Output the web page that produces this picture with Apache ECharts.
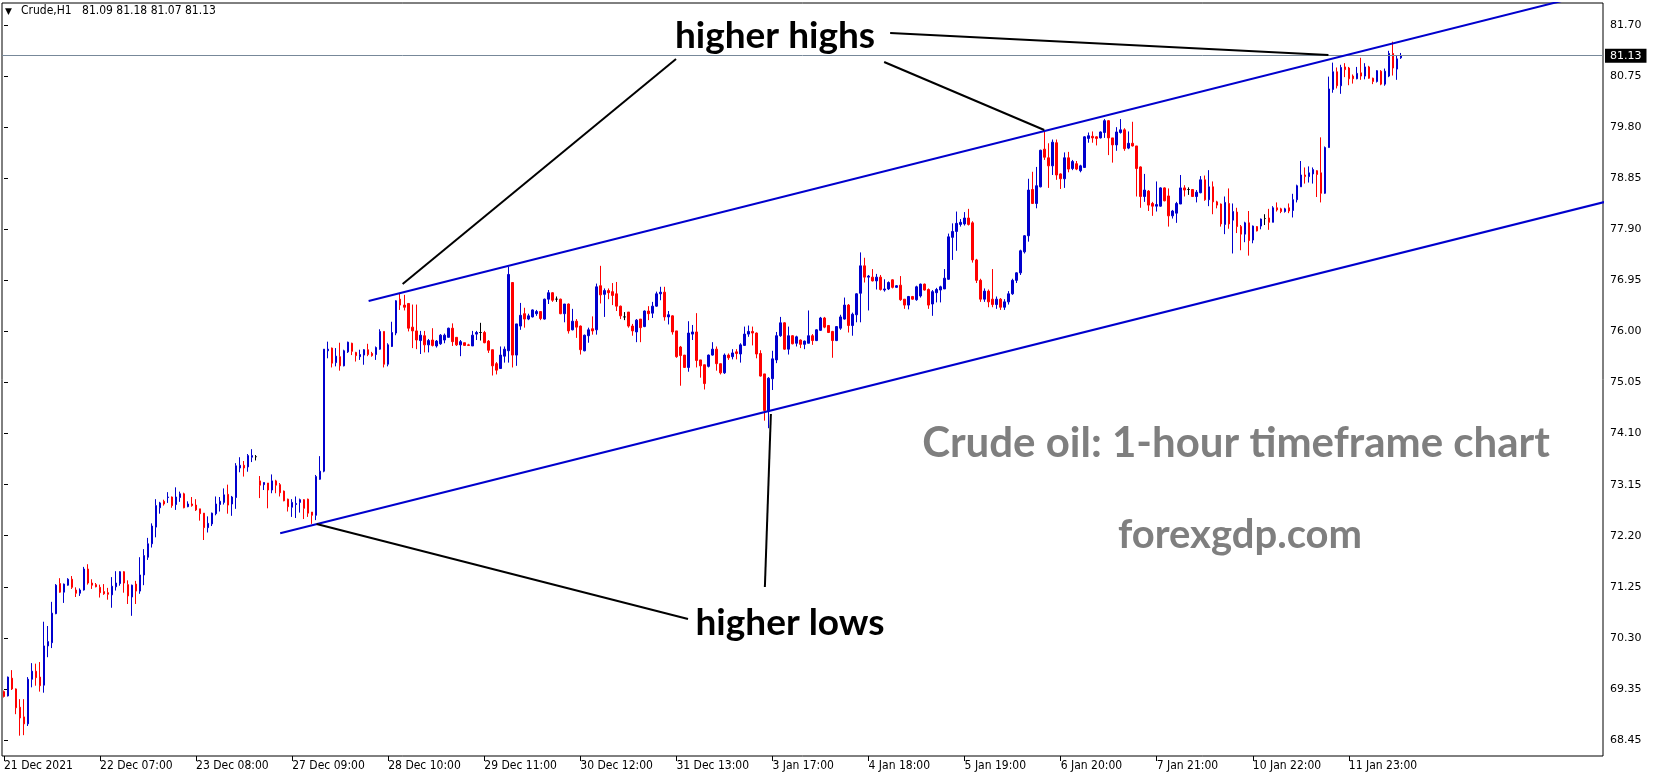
<!DOCTYPE html>
<html>
<head>
<meta charset="utf-8">
<script src="https://cdn.jsdelivr.net/npm/echarts@6/dist/echarts.min.js"></script>
<style>
html,body{margin:0;padding:0;background:#fff;}
#c{width:1653px;height:780px;}
</style>
</head>
<body>
<div id="c"></div>
<script>
// ---- tick labels ----
const xTickLabels = ['21 Dec 2021','22 Dec 07:00','23 Dec 08:00','27 Dec 09:00','28 Dec 10:00','29 Dec 11:00','30 Dec 12:00','31 Dec 13:00','3 Jan 17:00','4 Jan 18:00','5 Jan 19:00','6 Jan 20:00','7 Jan 21:00','10 Jan 22:00','11 Jan 23:00'];
const barsPerLabel = 24;
const totalSlots = 400;
const yTickValues = [68.40,69.35,70.30,71.25,72.20,73.15,74.10,75.05,76.00,76.95,77.90,78.85,79.80,80.75,81.70];
const yTickLabels = ['68.45','69.35','70.30','71.25','72.20','73.15','74.10','75.05','76.00','76.95','77.90','78.85','79.80','80.75','81.70'];
const lastPrice = 81.13;

// ---- hourly candles [open, high, low, close] ----
const ohlc = [
[69.30,69.32,69.19,69.21],[69.22,69.58,69.21,69.57],[69.55,69.70,69.33,69.35],[69.35,69.36,68.88,69.00],[69.01,69.16,68.48,68.81],
[68.83,69.16,68.49,68.70],[68.70,69.57,68.66,69.53],[69.53,69.83,69.38,69.68],[69.68,69.82,69.41,69.56],[69.57,69.85,69.30,69.41],
[69.42,70.60,69.28,70.15],[70.15,70.52,69.94,70.23],[70.21,70.97,70.11,70.76],[70.75,71.30,70.74,71.28],[71.31,71.41,71.14,71.15],
[71.15,71.31,70.95,71.30],[71.28,71.41,71.27,71.39],[71.39,71.45,71.21,71.24],[71.19,71.24,71.06,71.13],[71.13,71.22,71.08,71.19],
[71.19,71.62,71.18,71.58],[71.58,71.67,71.29,71.32],[71.32,71.39,71.21,71.28],[71.29,71.32,71.24,71.25],[71.24,71.29,71.05,71.14],
[71.16,71.30,71.10,71.12],[71.14,71.23,71.01,71.11],[71.10,71.43,70.86,71.26],[71.25,71.54,71.18,71.32],[71.31,71.54,71.27,71.53],
[71.53,71.54,71.14,71.32],[71.29,71.37,70.93,71.08],[71.06,71.29,70.71,71.28],[71.30,71.36,70.93,71.17],[71.17,71.80,71.12,71.47],
[71.47,71.95,71.28,71.83],[71.80,72.16,71.75,72.05],[72.05,72.43,71.98,72.38],[72.36,72.88,72.17,72.76],[72.72,72.83,72.61,72.81],
[72.84,72.87,72.76,72.79],[72.91,73.01,72.81,72.92],[72.92,72.93,72.72,72.76],[72.78,73.10,72.68,72.92],[72.91,73.02,72.83,72.98],
[72.98,73.00,72.71,72.72],[72.74,72.84,72.73,72.79],[72.79,72.92,72.74,72.76],[72.77,72.88,72.66,72.68],[72.70,72.70,72.48,72.61],
[72.62,72.62,72.12,72.35],[72.35,72.56,72.26,72.43],[72.42,72.63,72.38,72.62],[72.61,72.93,72.58,72.79],[72.78,72.92,72.65,72.84],
[72.82,73.08,72.78,72.96],[72.97,73.15,72.61,72.77],[72.79,72.94,72.57,72.92],[72.91,73.55,72.70,73.50],[73.46,73.66,73.38,73.51],
[73.51,73.59,73.30,73.46],[73.48,73.72,73.39,73.69],[73.66,73.81,73.57,73.69],[73.67,73.70,73.60,73.67],[73.22,73.31,72.90,73.14],
[73.15,73.19,73.05,73.19],[73.18,73.18,72.71,73.05],[73.05,73.34,72.99,73.22],[73.22,73.24,72.99,73.14],[73.15,73.18,72.93,73.00],
[73.03,73.04,72.84,72.85],[72.88,72.89,72.65,72.74],[72.73,72.88,72.55,72.82],[72.78,72.93,72.53,72.80],[72.82,72.89,72.63,72.87],
[72.87,72.88,72.51,72.71],[72.88,72.89,72.55,72.62],[72.64,72.64,72.42,72.58],[72.58,73.33,72.49,73.30],[73.25,73.68,73.24,73.40],
[73.40,75.67,73.38,75.67],[75.64,75.81,75.50,75.67],[75.69,75.70,75.33,75.41],[75.42,75.69,75.35,75.54],[75.53,75.79,75.27,75.36],
[75.36,75.66,75.35,75.64],[75.62,75.81,75.60,75.80],[75.78,75.79,75.56,75.63],[75.61,75.62,75.44,75.55],[75.53,75.66,75.47,75.57],
[75.56,75.67,75.38,75.66],[75.66,75.77,75.54,75.57],[75.59,75.62,75.53,75.55],[75.57,75.72,75.47,75.70],[75.67,76.04,75.66,76.00],
[76.00,76.00,75.33,75.39],[75.39,75.78,75.35,75.75],[75.72,76.18,75.71,75.98],[75.97,76.58,75.93,76.57],[76.60,76.71,76.40,76.49],
[76.49,76.68,76.39,76.45],[76.52,76.52,76.00,76.06],[76.08,76.50,75.69,76.01],[76.01,76.50,75.67,75.84],[75.83,76.01,75.58,75.93],
[75.92,76.01,75.61,75.75],[75.75,75.86,75.61,75.83],[75.84,76.06,75.72,75.74],[75.73,75.84,75.70,75.82],[75.77,75.95,75.75,75.93],
[75.84,75.96,75.78,75.93],[75.89,76.07,75.89,76.06],[76.06,76.15,75.73,75.81],[75.89,75.89,75.73,75.75],[75.75,75.84,75.54,75.81],
[75.79,75.79,75.73,75.74],[75.75,75.77,75.73,75.74],[75.73,76.01,75.73,75.93],[75.95,76.01,75.84,75.98],[75.98,76.16,75.83,75.98],
[75.98,76.01,75.78,75.79],[75.82,75.84,75.60,75.65],[75.66,75.66,75.18,75.36],[75.40,75.43,75.20,75.28],[75.31,75.72,75.31,75.56],
[75.54,75.72,75.42,75.67],[75.64,77.20,75.42,77.06],[76.91,76.91,75.33,75.56],[75.56,76.14,75.36,76.14],[76.10,76.53,76.03,76.30],
[76.33,76.44,76.07,76.23],[76.23,76.33,76.21,76.29],[76.27,76.41,76.26,76.40],[76.33,76.40,76.29,76.37],[76.37,76.37,76.21,76.24],
[76.23,76.61,76.22,76.60],[76.60,76.77,76.51,76.72],[76.72,76.73,76.55,76.58],[76.60,76.65,76.55,76.60],[76.60,76.61,76.32,76.33],
[76.33,76.51,76.17,76.51],[76.51,76.52,75.96,76.01],[76.03,76.42,76.02,76.19],[76.19,76.23,75.88,76.08],[76.10,76.11,75.57,75.66],
[75.64,75.94,75.63,75.93],[75.92,76.07,75.79,76.03],[76.05,76.28,75.94,76.01],[76.03,76.89,75.94,76.83],[76.85,77.22,76.52,76.68],
[76.69,76.80,76.27,76.76],[76.76,76.80,76.60,76.72],[76.74,76.90,76.49,76.67],[76.70,76.92,76.38,76.47],[76.47,76.48,76.23,76.29],
[76.27,76.36,76.21,76.27],[76.36,76.36,76.07,76.10],[76.10,76.14,75.92,76.01],[75.99,76.23,75.80,76.21],[76.23,76.23,75.80,76.07],
[76.09,76.39,76.08,76.38],[76.38,76.47,76.21,76.33],[76.34,76.55,76.25,76.47],[76.47,76.74,76.46,76.70],[76.70,76.83,76.58,76.73],
[76.73,76.83,76.20,76.27],[76.27,76.38,76.13,76.31],[76.29,76.30,75.94,75.99],[76.01,76.01,75.51,75.53],[75.71,75.73,74.99,75.55],
[75.56,75.56,75.32,75.33],[75.33,76.19,75.25,75.97],[75.95,76.12,75.84,75.99],[75.99,76.34,75.33,75.46],[75.47,75.47,75.14,75.36],
[75.38,75.38,74.92,75.03],[75.35,75.57,75.33,75.56],[75.56,75.80,75.55,75.67],[75.67,75.72,75.27,75.40],[75.40,75.40,75.20,75.23],
[75.23,75.59,75.21,75.56],[75.56,75.59,75.47,75.51],[75.53,75.67,75.48,75.60],[75.62,75.67,75.48,75.59],[75.58,75.78,75.42,75.75],
[75.74,76.09,75.73,75.95],[75.95,76.11,75.90,76.00],[76.00,76.09,75.74,75.97],[75.97,75.98,75.50,75.58],[75.59,75.65,75.16,75.17],
[75.21,75.21,74.34,74.53],[74.51,75.15,74.20,75.13],[75.12,75.64,74.91,75.49],[75.47,75.99,75.41,75.92],[75.92,76.27,75.90,76.16],
[76.16,76.17,75.66,75.67],[75.67,76.09,75.57,75.92],[75.92,75.93,75.76,75.77],[75.78,75.92,75.72,75.90],[75.84,75.85,75.69,75.76],
[75.76,75.83,75.67,75.82],[75.78,76.39,75.78,75.92],[75.92,75.95,75.75,75.83],[75.83,76.04,75.82,76.03],[76.02,76.27,76.01,76.25],
[76.25,76.27,76.06,76.08],[76.11,76.12,75.97,75.98],[76.00,76.01,75.51,75.83],[75.83,76.10,75.82,76.09],[76.06,76.31,76.03,76.27],
[76.23,76.63,76.22,76.49],[76.49,76.51,75.98,76.11],[76.11,76.35,75.92,76.32],[76.31,76.71,76.17,76.70],[76.71,77.47,76.17,77.22],
[77.22,77.37,76.91,77.01],[77.01,77.05,76.39,77.03],[77.01,77.16,76.93,76.94],[76.94,77.07,76.78,77.01],[77.01,77.05,76.76,76.78],
[76.77,76.97,76.74,76.79],[76.79,76.93,76.77,76.91],[76.96,76.97,76.80,76.82],[76.82,76.86,76.81,76.85],[76.86,77.03,76.57,76.59],
[76.60,76.60,76.42,76.49],[76.49,76.66,76.41,76.65],[76.65,76.66,76.59,76.60],[76.59,76.85,76.57,76.83],[76.66,76.89,76.63,76.88],
[76.88,76.89,76.76,76.77],[76.78,76.80,76.42,76.49],[76.51,76.77,76.29,76.74],[76.72,76.81,76.54,76.78],[76.77,76.85,76.54,76.83],
[76.79,77.16,76.79,76.99],[76.97,77.82,76.96,77.76],[77.75,78.01,77.33,77.86],[77.86,78.23,77.50,78.01],[77.99,78.09,77.95,78.03],
[78.00,78.22,77.97,78.11],[78.11,78.28,77.97,77.99],[78.02,78.05,77.28,77.33],[77.33,77.35,76.90,76.95],[76.95,76.98,76.55,76.60],
[76.60,76.80,76.55,76.75],[76.75,76.78,76.45,76.55],[76.60,77.16,76.45,76.50],[76.50,76.65,76.42,76.60],[76.60,76.62,76.40,76.45],
[76.45,76.60,76.40,76.55],[76.55,76.75,76.50,76.70],[76.70,76.98,76.68,76.95],[76.95,77.10,76.90,77.09],[77.09,77.52,77.05,77.50],
[77.48,77.79,77.45,77.78],[77.78,78.84,77.67,78.63],[78.64,78.97,78.37,78.38],[78.38,79.06,78.29,78.71],[78.69,79.38,78.68,79.37],
[79.39,79.72,79.19,79.24],[79.23,79.50,78.67,79.08],[79.08,79.57,78.91,79.52],[79.51,79.57,78.82,78.91],[78.93,78.94,78.65,78.84],
[78.84,79.33,78.67,79.23],[79.23,79.34,78.96,79.02],[79.03,79.19,79.00,79.16],[79.12,79.17,79.00,79.02],[78.99,79.10,78.96,79.08],
[79.05,79.63,79.04,79.62],[79.59,79.70,79.51,79.64],[79.63,79.72,79.51,79.60],[79.62,79.63,79.46,79.59],[79.60,79.72,79.59,79.71],
[79.70,79.95,79.60,79.92],[79.92,79.93,79.28,79.60],[79.60,79.60,79.14,79.47],[79.47,79.80,79.36,79.71],[79.70,79.95,79.68,79.75],
[79.75,79.78,79.36,79.40],[79.41,79.72,79.39,79.50],[79.50,79.90,79.44,79.45],[79.45,79.45,78.51,79.03],[79.06,79.07,78.30,78.51],
[78.51,78.93,78.41,78.63],[78.61,78.63,78.24,78.35],[78.38,78.41,78.15,78.33],[78.33,78.79,78.23,78.36],[78.33,78.68,78.32,78.67],
[78.67,78.68,78.42,78.43],[78.52,78.66,77.95,78.15],[78.15,78.26,78.10,78.24],[78.20,78.41,78.02,78.38],[78.37,78.91,78.37,78.67],
[78.67,78.72,78.51,78.63],[78.64,78.68,78.54,78.64],[78.64,78.64,78.50,78.51],[78.51,78.63,78.40,78.59],[78.58,78.89,78.57,78.82],
[78.82,78.90,78.43,78.45],[78.45,79.00,78.33,78.69],[78.69,78.79,78.18,78.41],[78.41,78.43,78.29,78.35],[78.37,78.38,77.95,78.00],
[77.99,78.51,77.81,78.40],[78.38,78.66,77.91,78.00],[78.07,78.38,77.45,78.23],[78.22,78.30,77.83,77.95],[77.95,77.98,77.51,77.81],
[77.81,78.04,77.66,78.02],[78.02,78.24,77.41,77.69],[77.70,77.97,77.64,77.96],[77.95,77.96,77.86,77.87],[77.96,78.10,77.90,78.09],
[78.10,78.18,77.98,78.10],[78.11,78.28,77.89,78.03],[78.03,78.33,78.03,78.30],[78.30,78.40,78.23,78.26],[78.28,78.30,78.20,78.23],
[78.23,78.30,78.21,78.28],[78.30,78.38,78.20,78.24],[78.25,78.56,78.12,78.45],[78.45,78.73,78.40,78.71],[78.69,79.17,78.69,78.91],
[78.91,79.05,78.75,78.88],[78.88,79.07,78.77,78.95],[78.93,79.05,78.75,79.01],[78.99,79.00,78.50,78.92],[78.95,79.61,78.40,78.57],
[78.57,79.44,78.56,79.42],[79.42,80.74,79.42,80.51],[80.50,81.00,80.44,80.83],[80.83,80.91,80.52,80.57],[80.57,80.96,80.42,80.91],
[80.92,80.99,80.73,80.87],[80.90,80.92,80.58,80.70],[80.75,80.78,80.61,80.70],[80.70,80.92,80.69,80.80],[80.81,81.09,80.68,80.75],
[80.75,80.99,80.69,80.92],[80.92,80.94,80.70,80.71],[80.71,80.72,80.60,80.65],[80.65,80.86,80.63,80.85],[80.84,80.86,80.58,80.60],
[80.60,80.89,80.57,80.84],[80.75,81.22,80.73,81.17],[81.17,81.39,80.76,80.90],[80.88,81.14,80.68,81.07],[81.09,81.18,81.07,81.13]
];

// ---- channel lines [barIndex, price] ----
const upperChannel = [[91.1, 76.566], [400, 82.35]];
const lowerChannel = [[69.0, 72.245], [400, 78.41]];
// ---- annotation pointer lines [barIndex, price] ----
const highsPointerA = [[167.9, 81.068], [99.6, 76.882]];
const highsPointerB = [[219.9, 81.012], [259.9, 79.747]];
const highsPointerC = [[221.4, 81.551], [330.9, 81.142]];
const lowsPointerA  = [[78.1, 72.418], [170.9, 70.651]];
const lowsPointerB  = [[191.6, 74.464], [190.1, 71.246]];

const categories = [];
for (let i = 0; i < totalSlots; i++) {
  const k = i / barsPerLabel;
  categories.push(i % barsPerLabel === 0 && k < xTickLabels.length ? xTickLabels[k] : '');
}
const lastLabelIdx = (xTickLabels.length - 1) * barsPerLabel;
const showTick = (idx) => idx % barsPerLabel === 0 && idx <= lastLabelIdx;

const candleData = ohlc.map(b => {
  const item = { value: [b[0], b[3], b[2], b[1]] };
  if (b[0] === b[3]) item.itemStyle = { color: '#000', color0: '#000', borderColor: '#000', borderColor0: '#000' };
  return item;
});

const BLUE = '#0000cd';
const RED = '#ff0000';

const lineSeries = (data, color, width) => ({
  type: 'line', xAxisIndex: 2, yAxisIndex: 1, data: data, symbol: 'none',
  lineStyle: { color: color, width: width }, silent: true, clip: true, z: 5
});

const chart = echarts.init(document.getElementById('c'), null, { renderer: 'canvas', width: 1653, height: 780 });
chart.setOption({
  animation: false,
  backgroundColor: '#ffffff',
  grid: [
    { left: 2, right: 50, top: 3, bottom: 24, show: true, borderColor: '#000', borderWidth: 1, backgroundColor: 'transparent', outerBoundsMode: 'none', containLabel: false },
    { left: 2, right: 50, top: -26.07, bottom: 40, show: false, outerBoundsMode: 'none', containLabel: false }
  ],
  xAxis: [
    { type: 'category', gridIndex: 0, data: categories, position: 'bottom',
      axisLine: { show: false },
      axisTick: { show: true, alignWithLabel: true, interval: showTick, length: 5, lineStyle: { color: '#000' } },
      axisLabel: { interval: showTick, align: 'left', margin: 4, color: '#000', fontSize: 12, fontFamily: 'DejaVu Sans Condensed' },
      splitLine: { show: false } },
    { type: 'category', gridIndex: 1, data: categories, show: false },
    { type: 'value', gridIndex: 1, min: -0.5, max: totalSlots - 0.5, show: false }
  ],
  yAxis: [
    { type: 'value', gridIndex: 0, min: 0, max: 1, show: false },
    { type: 'value', gridIndex: 1, position: 'right', min: 68.40, max: 82.65, interval: 0.95, scale: true,
      axisLine: { show: false },
      axisTick: { show: true, length: 4, lineStyle: { color: '#000' } },
      splitLine: { show: false },
      axisLabel: { margin: 7, color: '#000', fontSize: 11, fontFamily: 'DejaVu Sans', showMaxLabel: false,
        formatter: (v) => { for (let i = 0; i < yTickValues.length; i++) { if (Math.abs(yTickValues[i] - v) < 0.001) return yTickLabels[i]; } return ''; } } }
  ],
  series: [
    { type: 'candlestick', xAxisIndex: 1, yAxisIndex: 1, data: candleData, barWidth: 2, z: 3,
      itemStyle: { color: BLUE, color0: RED, borderColor: BLUE, borderColor0: RED, borderWidth: 1 },
      markLine: { silent: true, symbol: 'none', animation: false,
        lineStyle: { color: '#778899', width: 1, type: 'solid' },
        label: { show: true, position: 'end', distance: 2, formatter: lastPrice.toFixed(2), color: '#fff', backgroundColor: '#000',
          padding: [2, 5, 1, 5], fontSize: 11, fontFamily: 'DejaVu Sans' },
        data: [{ yAxis: lastPrice }] } },
    lineSeries(upperChannel, BLUE, 2),
    lineSeries(lowerChannel, BLUE, 2),
    lineSeries(highsPointerA, '#000', 2),
    lineSeries(highsPointerB, '#000', 2),
    lineSeries(highsPointerC, '#000', 2),
    lineSeries(lowsPointerA, '#000', 2),
    lineSeries(lowsPointerB, '#000', 2)
  ],
  graphic: [
    { type: 'rect', shape: { x: 0, y: 0, width: 1653, height: 2 }, style: { fill: '#fff' }, z: 90, silent: true },
    { type: 'text', left: 5, top: 7, z: 100, style: { text: '\u25BC', fill: '#000', font: '9px "DejaVu Sans"' } },
    { type: 'text', left: 21, top: 5, z: 100, style: { text: 'Crude,H1   81.09 81.18 81.07 81.13', fill: '#000', font: '12px "DejaVu Sans Condensed"' } },
    { type: 'text', x: 775, y: 36, z: 100, style: { text: 'higher highs', fill: '#000', font: 'bold 37px Lato', textAlign: 'center', textVerticalAlign: 'middle' } },
    { type: 'text', x: 790, y: 623, z: 100, style: { text: 'higher lows', fill: '#000', font: 'bold 37px Lato', textAlign: 'center', textVerticalAlign: 'middle' } },
    { type: 'text', x: 1236, y: 443, z: 100, style: { text: 'Crude oil: 1-hour timeframe chart', fill: '#7f7f7f', font: 'bold 42px Lato', textAlign: 'center', textVerticalAlign: 'middle' } },
    { type: 'text', x: 1240, y: 535, z: 100, style: { text: 'forexgdp.com', fill: '#7f7f7f', font: 'bold 40px Lato', textAlign: 'center', textVerticalAlign: 'middle' } }
  ]
});
</script>
</body>
</html>
